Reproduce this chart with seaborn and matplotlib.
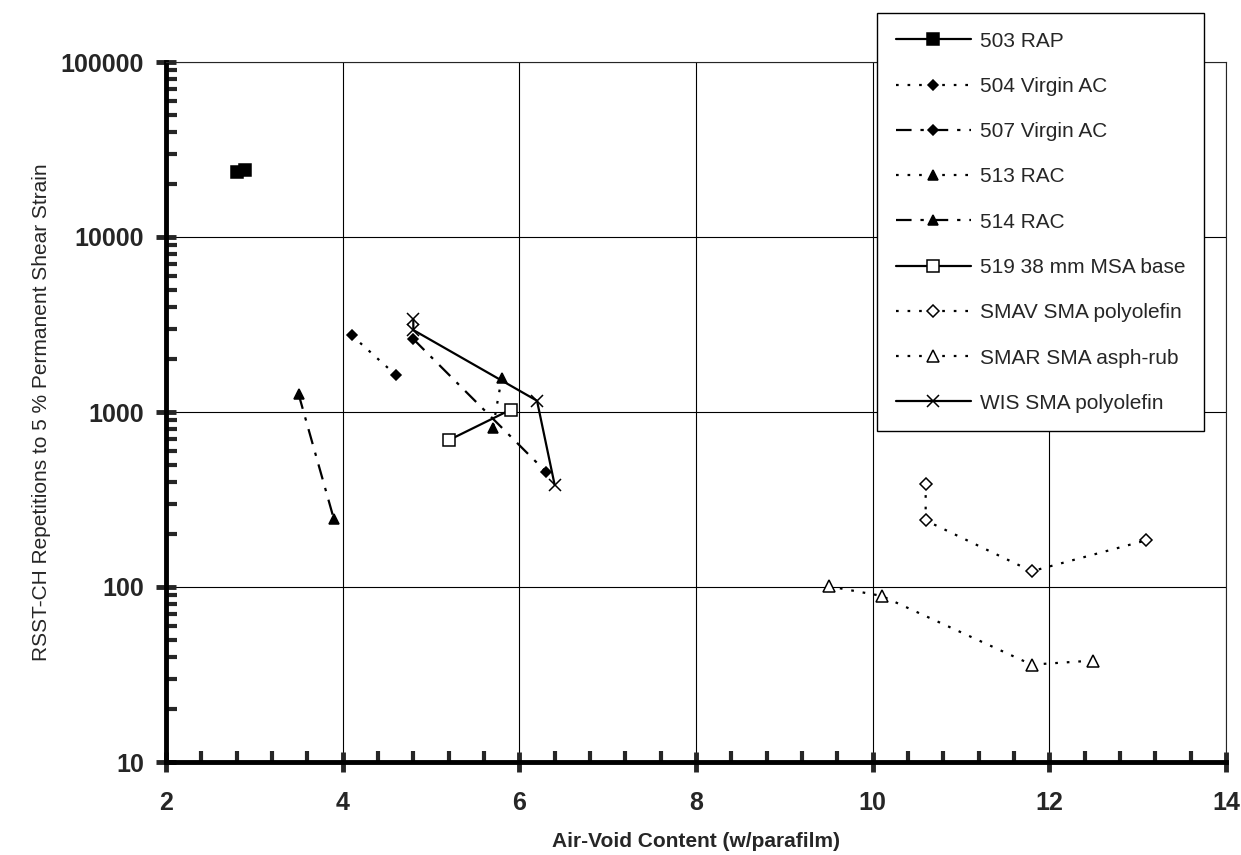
import pandas as pd
import matplotlib.pyplot as plt
import seaborn as sns
import numpy as np
from matplotlib.ticker import FixedLocator, NullFormatter

# data
x_503 = [2.8, 2.9]
y_503 = [23400, 24100]
x_504 = [4.1, 4.6]
y_504 = [2750, 1630]
x_507 = [4.8, 6.3]
y_507 = [2610, 456]
x_513 = [5.8, 5.7]
y_513 = [1560, 807]
x_514 = [3.5, 3.9]
y_514 = [1270, 245]
x_519 = [5.2, 5.9]
y_519 = [690, 1030]
x_smav = [10.6, 10.6, 11.8, 13.1]
y_smav = [390, 240, 123, 185]
x_smar = [9.5, 10.1, 11.8, 12.5]
y_smar = [101, 89, 36, 38]
x_wis = [4.8, 4.8, 6.2, 6.4]
y_wis = [3390, 2940, 1160, 383]

labels = ['503 RAP', '504 Virgin AC', '507 Virgin AC', '513 RAC', '514 RAC',
          '519 38 mm MSA base', 'SMAV SMA polyolefin', 'SMAR SMA asph-rub',
          'WIS SMA polyolefin']

sns.set_style('white')
plt.rcParams['font.family'] = ['Liberation Sans', 'DejaVu Sans']

dot = (0, (1.2, 4))
dashdot = (0, (7, 4, 1.5, 4))
styles = [
    (x_503, y_503, '-', 's', 'black', 8),
    (x_504, y_504, dot, 'D', 'black', 5.5),
    (x_507, y_507, dashdot, 'D', 'black', 5.5),
    (x_513, y_513, dot, '^', 'black', 7),
    (x_514, y_514, dashdot, '^', 'black', 7),
    (x_519, y_519, '-', 's', 'white', 8),
    (x_smav, y_smav, dot, 'D', 'white', 6.5),
    (x_smar, y_smar, dot, '^', 'white', 8),
    (x_wis, y_wis, '-', 'x', 'black', 8),
]

fig = plt.figure(figsize=(12.41, 8.55), dpi=100)
ax = fig.add_axes([166/1241, 1-762/855, (1226-166)/1241, (762-62)/855])

for (xs, ys, ls, mk, fc, ms), lab in zip(styles, labels):
    df = pd.DataFrame({'x': xs, 'y': ys})
    sns.lineplot(data=df, x='x', y='y', ax=ax, sort=False, estimator=None,
                 color='black', linestyle=ls, linewidth=1.6, marker=mk,
                 markersize=ms, markerfacecolor=fc, markeredgecolor='black',
                 markeredgewidth=1.1, label=lab)

ax.set_yscale('log')
ax.set_xlim(2, 14)
ax.set_ylim(10, 100000)
ax.set_xticks([2, 4, 6, 8, 10, 12, 14])
ax.set_yticks([10, 100, 1000, 10000, 100000])
ax.set_yticklabels(['10', '100', '1000', '10000', '100000'])
ax.xaxis.set_minor_locator(FixedLocator([v for v in np.arange(2, 14.01, 0.4) if abs(v/2 - round(v/2)) > 0.01]))
minor_y = [m * 10**e for e in range(1, 5) for m in range(2, 10)]
ax.yaxis.set_minor_locator(FixedLocator(minor_y))
ax.yaxis.set_minor_formatter(NullFormatter())

ax.grid(True, which='major', color='black', linewidth=0.8)
for s in ['top', 'right']:
    ax.spines[s].set_linewidth(0.8)
for s in ['left', 'bottom']:
    ax.spines[s].set_linewidth(3.5)
    ax.spines[s].set_color('black')

ax.tick_params(axis='both', which='both', bottom=True, left=True, top=False, right=False)
ax.tick_params(axis='both', which='major', direction='inout', length=14, width=3.5,
               labelsize=18)
ax.tick_params(axis='x', which='major', pad=14)
ax.tick_params(axis='y', which='major', pad=9)
ax.tick_params(axis='both', which='minor', direction='in', length=8, width=3)
for t in ax.get_xticklabels() + ax.get_yticklabels():
    t.set_fontweight('bold')

ax.set_xlabel('Air-Void Content (w/parafilm)', fontsize=15, fontweight='bold', labelpad=12)
ax.set_ylabel('RSST-CH Repetitions to 5 % Permanent Shear Strain', fontsize=15,
              labelpad=7)

leg = ax.legend(loc='upper left', bbox_to_anchor=(877/1241, 1-13/855),
                bbox_transform=fig.transFigure, fontsize=15, frameon=True,
                fancybox=False, framealpha=1, edgecolor='black',
                handlelength=3.6, labelspacing=1.26, borderpad=0.9,
                handletextpad=0.45, borderaxespad=0)
leg.get_frame().set_linewidth(1.0)

fig.savefig('out.png', dpi=100)
